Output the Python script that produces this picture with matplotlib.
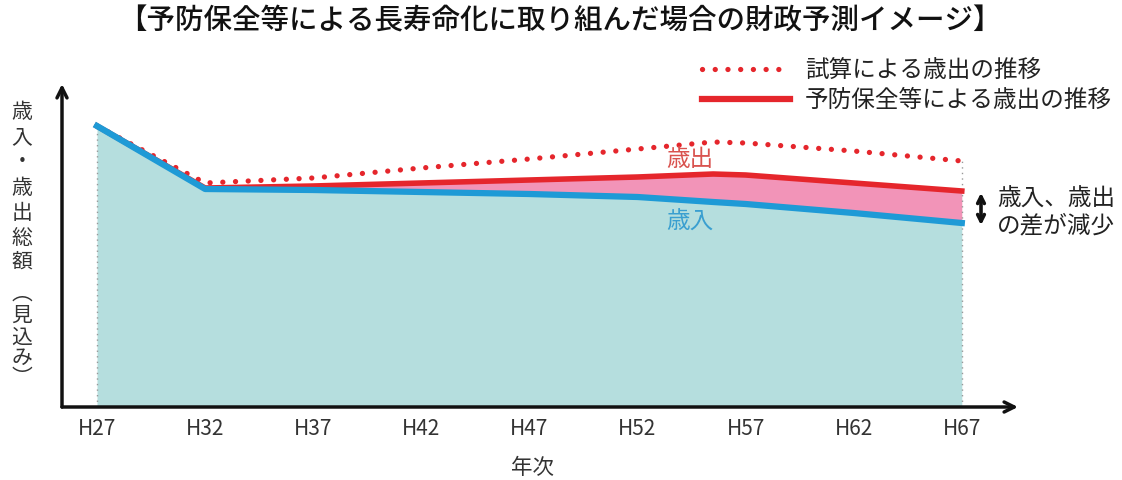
import matplotlib
matplotlib.use("Agg")
import matplotlib.pyplot as plt
import numpy as np

plt.rcParams['font.family'] = ['Noto Sans CJK JP', 'DejaVu Sans']

years = [27, 32, 37, 42, 47, 52, 55.5, 57, 62, 67]
tick_years = [27, 32, 37, 42, 47, 52, 57, 62, 67]
tick_labels = ["H27", "H32", "H37", "H42", "H47", "H52", "H57", "H62", "H67"]
revenue = [281, 218, 217, 215, 213, 210, 205, 203, 194, 184]           # 歳入
spend_preventive = [281, 219, 221, 224, 227, 230, 233, 232, 224, 216]  # 予防保全等による歳出
spend_trial = [281, 224, 229, 239, 248, 258, 265, 264, 256, 246]       # 試算による歳出

W, H = 1122, 481
fig = plt.figure(figsize=(W / 100, H / 100), dpi=100)
fig.patch.set_facecolor("white")

ax_l, ax_r, ax_b, ax_t = 62, 1018, 408, 85
ax = fig.add_axes([ax_l / W, (H - ax_b) / H, (ax_r - ax_l) / W, (ax_b - ax_t) / H])
scale = 108.1 / 5
xmin = 27 - (97 - ax_l) / scale
xmax = xmin + (ax_r - ax_l) / scale
ax.set_xlim(xmin, xmax)
ax.set_ylim(0, ax_b - ax_t)

for s in ax.spines.values():
    s.set_visible(False)

teal = "#b5dede"
pink = "#f294b8"
blue = "#1e9ad6"
red = "#e5262c"
dot_style = (0, (0.01, 2.4))

ax.fill_between(years, 0, revenue, color=teal, lw=0, zorder=1)
ax.fill_between(years, revenue, spend_preventive, color=pink, lw=0, zorder=1)
ax.plot(years, spend_trial, color=red, lw=3.8, linestyle=dot_style,
        dash_capstyle='round', zorder=3)
ax.plot(years, spend_preventive, color=red, lw=4, zorder=4)
ax.plot(years, revenue, color=blue, lw=4.5, zorder=5)

# vertical dotted guides
for xi, top in [(years[0], revenue[0]), (years[-1], spend_trial[-1])]:
    ax.plot([xi, xi], [0, top], color="#999999", lw=1, linestyle=(0, (1, 3)), zorder=2)

# axes arrows
ax.annotate('', xy=(1, 0), xytext=(0, 0), xycoords='axes fraction',
            arrowprops=dict(arrowstyle='->', lw=2.5, color='#111111',
                            mutation_scale=18, shrinkA=0, shrinkB=0))
ax.annotate('', xy=(0, 1), xytext=(0, 0), xycoords='axes fraction',
            arrowprops=dict(arrowstyle='->', lw=2.5, color='#111111',
                            mutation_scale=18, shrinkA=0, shrinkB=0))

ax.set_xticks(tick_years)
ax.set_xticklabels(tick_labels, fontsize=15, color="#333333")
ax.tick_params(axis='x', length=0, pad=7)
ax.set_yticks([])

fig.text(532 / W, 1 - 468 / H, "年次", fontsize=15.5, color="#333333", ha='center', va='center')

# title
fig.text(560 / W, 1 - 21 / H, "【予防保全等による長寿命化に取り組んだ場合の財政予測イメージ】",
         fontsize=20.5, fontweight='medium', ha='center', va='center', color="#111111")

# y label, stacked vertically
ylab_chars = ["歳", "入", "・", "歳", "出", "総", "額", "", "︵", "見", "込", "み", "︶"]
ylab_y = [112, 137, 162, 188, 213, 238, 262, 0, 294, 316, 338, 358, 378]
for ch, yy in zip(ylab_chars, ylab_y):
    if ch:
        fig.text(22 / W, 1 - yy / H, ch, fontsize=15, color="#333333", ha='center', va='center')

# legend
fig.add_artist(plt.Line2D([702 / W, 790 / W], [1 - 70 / H] * 2, color=red, lw=3.8,
                          linestyle=dot_style, dash_capstyle='round'))
fig.add_artist(plt.Line2D([702 / W, 790 / W], [1 - 100 / H] * 2, color=red, lw=4.5))
fig.text(805 / W, 1 - 70 / H, "試算による歳出の推移", fontsize=17, color="#222222", va='center')
fig.text(805 / W, 1 - 100 / H, "予防保全等による歳出の推移", fontsize=17, color="#222222", va='center')

# in-plot labels
fig.text(690 / W, 1 - 160 / H, "歳出", fontsize=17, color="#d9534f", ha='center', va='center')
fig.text(690 / W, 1 - 222 / H, "歳入", fontsize=17, color="#3a9fd0", ha='center', va='center')

# right annotation: double arrow
fig.add_artist(matplotlib.patches.FancyArrowPatch(
    (981 / W, 1 - 229 / H), (981 / W, 1 - 191 / H), transform=fig.transFigure,
    arrowstyle='<->', mutation_scale=12, lw=2.6, color='#111111'))
fig.text(997 / W, 1 - 199 / H, "歳入、歳出", fontsize=17, color="#222222", va='center')
fig.text(997 / W, 1 - 226 / H, "の差が減少", fontsize=17, color="#222222", va='center')

fig.savefig("out.png", dpi=100, facecolor="white")
